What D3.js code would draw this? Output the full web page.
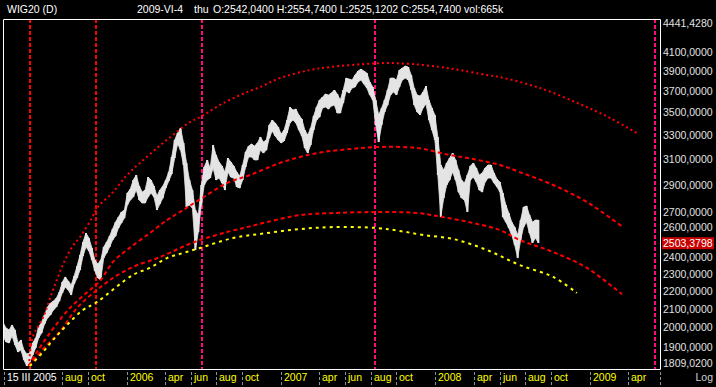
<!DOCTYPE html>
<html><head><meta charset="utf-8">
<script src="https://cdn.jsdelivr.net/npm/d3@7"></script>
<style>
html,body{margin:0;padding:0;background:#000;}
svg{display:block;}
text{font-family:"Liberation Sans",Arial,sans-serif;font-size:10.5px;}
</style></head><body>
<svg id="c" width="716" height="387"></svg>
<script>
// ---------- DATA ----------
const weekDates = [
"2005-03-14","2005-03-21","2005-03-28","2005-04-04","2005-04-11","2005-04-18","2005-04-25","2005-05-02","2005-05-09","2005-05-16",
"2005-05-23","2005-05-30","2005-06-06","2005-06-13","2005-06-20","2005-06-27","2005-07-04","2005-07-11","2005-07-18","2005-07-25",
"2005-08-01","2005-08-08","2005-08-15","2005-08-22","2005-08-29","2005-09-05","2005-09-12","2005-09-19","2005-09-26","2005-10-03",
"2005-10-10","2005-10-17","2005-10-24","2005-10-31","2005-11-07","2005-11-14","2005-11-21","2005-11-28","2005-12-05","2005-12-12",
"2005-12-19","2005-12-26","2006-01-02","2006-01-09","2006-01-16","2006-01-23","2006-01-30","2006-02-06","2006-02-13","2006-02-20",
"2006-02-27","2006-03-06","2006-03-13","2006-03-20","2006-03-27","2006-04-03","2006-04-10","2006-04-17","2006-04-24","2006-05-01",
"2006-05-08","2006-05-15","2006-05-22","2006-05-29","2006-06-05","2006-06-12","2006-06-19","2006-06-26","2006-07-03","2006-07-10",
"2006-07-17","2006-07-24","2006-07-31","2006-08-07","2006-08-14","2006-08-21","2006-08-28","2006-09-04","2006-09-11","2006-09-18",
"2006-09-25","2006-10-02","2006-10-09","2006-10-16","2006-10-23","2006-10-30","2006-11-06","2006-11-13","2006-11-20","2006-11-27",
"2006-12-04","2006-12-11","2006-12-18","2006-12-25","2007-01-01","2007-01-08","2007-01-15","2007-01-22","2007-01-29","2007-02-05",
"2007-02-12","2007-02-19","2007-02-26","2007-03-05","2007-03-12","2007-03-19","2007-03-26","2007-04-02","2007-04-09","2007-04-16",
"2007-04-23","2007-04-30","2007-05-07","2007-05-14","2007-05-21","2007-05-28","2007-06-04","2007-06-11","2007-06-18","2007-06-25",
"2007-07-02","2007-07-09","2007-07-16","2007-07-23","2007-07-30","2007-08-06","2007-08-13","2007-08-20","2007-08-27","2007-09-03",
"2007-09-10","2007-09-17","2007-09-24","2007-10-01","2007-10-08","2007-10-15","2007-10-22","2007-10-29","2007-11-05","2007-11-12",
"2007-11-19","2007-11-26","2007-12-03","2007-12-10","2007-12-17","2007-12-24","2007-12-31","2008-01-07","2008-01-14","2008-01-21",
"2008-01-28","2008-02-04","2008-02-11","2008-02-18","2008-02-25","2008-03-03","2008-03-10","2008-03-17","2008-03-24","2008-03-31",
"2008-04-07","2008-04-14","2008-04-21","2008-04-28","2008-05-05","2008-05-12","2008-05-19","2008-05-26","2008-06-02","2008-06-09",
"2008-06-16","2008-06-23","2008-06-30","2008-07-07","2008-07-14","2008-07-21","2008-07-28","2008-08-04","2008-08-11","2008-08-18",
"2008-08-25","2008-09-01"];
const highs = [
2023,1997,1987,2013,1987,1921,1936,1886,1867,1871,
1921,1946,2002,2028,2066,2109,2131,2142,2159,2193,
2251,2281,2257,2234,2287,2347,2415,2498,2557,2524,
2460,2384,2359,2384,2466,2498,2537,2584,2631,2666,
2701,2715,2838,2868,2936,2974,2890,2845,2860,2958,
2936,2890,2816,2860,2890,2936,2997,3117,3258,3318,
3361,3233,3069,2936,2860,2715,2680,2898,3037,3093,
3029,3216,3133,3077,3045,2997,3109,3077,3045,2997,
2966,3053,3158,3207,3224,3207,3233,3284,3241,3258,
3388,3432,3405,3370,3309,3344,3432,3550,3522,3531,
3477,3441,3344,3301,3361,3468,3550,3615,3644,3672,
3663,3682,3711,3672,3615,3711,3828,3818,3809,3858,
3899,3919,3899,3878,3789,3740,3615,3477,3541,3615,
3711,3828,3828,3809,3909,3929,3950,3940,3858,3730,
3663,3653,3692,3750,3615,3541,3477,3284,3053,3013,
3069,3109,3149,3093,3013,2936,2913,2974,3045,3069,
3029,2974,2990,3029,3053,3053,2990,2943,2920,2838,
2751,2694,2631,2597,2544,2645,2736,2744,2680,2631,
2645,2645];
const lows = [
1951,1926,1921,1956,1911,1876,1886,1838,1809,1828,
1862,1896,1946,1971,2018,2050,2066,2093,2109,2142,
2188,2222,2205,2176,2240,2275,2323,2409,2466,2440,
2384,2317,2275,2263,2396,2428,2466,2511,2537,2591,
2625,2659,2751,2787,2808,2860,2787,2765,2765,2808,
2838,2808,2715,2758,2801,2875,2928,2982,3109,3224,
3174,3053,2736,2751,2729,2447,2564,2751,2898,2936,
2951,3029,2936,2951,2913,2860,2997,2958,2951,2883,
2875,2936,3037,3117,3117,3093,3093,3174,3149,3174,
3275,3335,3292,3258,3233,3250,3318,3405,3432,3405,
3344,3292,3191,3149,3216,3344,3432,3459,3541,3550,
3531,3559,3569,3495,3495,3587,3701,3682,3730,3740,
3789,3809,3769,3730,3663,3615,3388,3241,3388,3504,
3569,3663,3692,3663,3740,3809,3828,3809,3711,3569,
3504,3477,3541,3578,3432,3344,3258,2974,2666,2801,
2898,2936,2997,2936,2845,2801,2787,2701,2936,2958,
2920,2860,2845,2920,2951,2951,2913,2883,2845,2666,
2631,2591,2544,2479,2396,2511,2597,2631,2557,2492,
2524,2492];

// arcs: [date, value]
const arcOuter = [
["2005-05-14",1809],["2005-05-23",1951],["2005-06-16",2050],["2005-07-10",2205],["2005-08-02",2353],
["2005-08-24",2466],["2005-09-12",2531],["2005-10-10",2659],["2005-10-24",2736],["2005-11-29",2845],
["2006-01-01",2974],["2006-02-01",3069],["2006-03-13",3191],["2006-04-20",3301],["2006-05-30",3414],
["2006-06-28",3468],["2006-08-09",3569],["2006-09-26",3663],["2006-11-12",3740],["2006-12-29",3828],
["2007-03-10",3909],["2007-04-27",3940],["2007-07-14",3970],["2007-09-09",3981],["2007-11-09",3970],
["2008-01-12",3940],["2008-02-28",3909],["2008-05-02",3858],["2008-06-02",3838],["2008-09-05",3730],
["2008-12-08",3578],["2009-02-18",3450],["2009-04-22",3318]];
const arcMiddle = [
["2005-05-14",1809],["2005-06-02",1876],["2005-06-26",1951],["2005-07-22",2028],["2005-08-19",2104],
["2005-09-24",2182],["2005-10-29",2257],["2005-11-29",2372],["2006-01-01",2447],["2006-02-24",2557],
["2006-04-06",2645],["2006-05-14",2715],["2006-06-28",2801],["2006-08-26",2913],["2006-10-19",2974],
["2007-01-05",3077],["2007-03-27",3149],["2007-06-13",3182],["2007-08-16",3199],["2007-11-19",3191],
["2008-02-05",3133],["2008-03-30",3101],["2008-06-02",3053],["2008-07-19",2997],["2008-10-06",2898],
["2008-12-25",2772],["2009-03-20",2597]];
const arcLower = [
["2005-05-14",1809],["2005-06-21",1901],["2005-07-26",1977],["2005-09-05",2104],["2005-10-22",2205],
["2005-11-29",2275],["2006-01-15",2341],["2006-03-20",2402],["2006-05-23",2479],["2006-06-23",2511],
["2006-08-26",2564],["2006-10-12",2597],["2006-11-28",2631],["2007-02-15",2680],["2007-05-04",2694],
["2007-08-16",2701],["2007-11-19",2694],["2008-01-19",2666],["2008-03-30",2625],["2008-06-02",2577],
["2008-07-19",2511],["2008-10-06",2434],["2008-12-25",2335],["2009-03-18",2180]];
const arcYellow = [
["2005-05-16",1809],["2005-06-16",1876],["2005-07-10",1936],["2005-08-12",2013],["2005-09-19",2093],
["2005-10-22",2137],["2006-01-15",2293],["2006-02-24",2335],["2006-04-06",2396],["2006-05-14",2428],
["2006-06-23",2460],["2006-09-09",2524],["2006-11-28",2557],["2007-02-15",2584],["2007-05-04",2597],
["2007-08-16",2591],["2007-10-09",2571],["2007-12-03",2544],["2008-02-12",2518],["2008-05-02",2447],
["2008-07-19",2353],["2008-10-06",2281],["2008-12-01",2188]];

const redLines = ["2005-05-16","2005-10-20"];
const magentaLines = ["2006-06-28","2007-08-11","2009-06-04"];

const yTicks = [4100,3900,3700,3500,3300,3100,2900,2700,2600,2400,2300,2200,2100,2000,1900];
const yMin = 1809.02, yMax = 4441.428, lastValue = 2503.3798;

const xTickDates = ["2005-03-15","2005-08-01","2005-10-01","2006-01-01","2006-04-01","2006-06-01","2006-08-01","2006-10-01",
"2007-01-01","2007-04-01","2007-06-01","2007-08-01","2007-10-01","2008-01-01","2008-04-01","2008-06-01","2008-08-01","2008-10-01",
"2009-01-01","2009-04-01"];
const xTickLabels = ["15 III 2005","aug","oct","2006","apr","jun","aug","oct","2007","apr","jun","aug","oct","2008","apr","jun","aug","oct","2009","apr"];

const headerLeft = "WIG20 (D)";
const headerDate = "2009-VI-4";
const headerDay = "thu";
const headerQuote = "O:2542,0400 H:2554,7400 L:2525,1202 C:2554,7400 vol:665k";

// ---------- CHART ----------
const parse = d3.utcParse("%Y-%m-%d");
const svg = d3.select("#c");
const L = 3, R = 660, T = 19, B = 369;

const x = d3.scaleUtc().domain([parse("2005-03-15"), parse("2009-06-15")]).range([3.6, 659.6]);
const y = d3.scaleLog().domain([yMin, yMax]).range([366, 21]);

svg.append("rect").attr("width",716).attr("height",387).attr("fill","#000");

svg.append("defs").append("clipPath").attr("id","pc")
  .append("rect").attr("x",L+1).attr("y",T+1).attr("width",R-L-1).attr("height",B-T-1);
const plot = svg.append("g").attr("clip-path","url(#pc)");

// vertical dashed lines
plot.selectAll(".vr").data(redLines).join("line")
  .attr("x1",d=>Math.round(x(parse(d)))).attr("x2",d=>Math.round(x(parse(d))))
  .attr("y1",T).attr("y2",B).attr("stroke","#ff0000").attr("stroke-width",2).attr("stroke-dasharray","4,2");
plot.selectAll(".vm").data(magentaLines).join("line")
  .attr("x1",d=>Math.round(x(parse(d)))).attr("x2",d=>Math.round(x(parse(d))))
  .attr("y1",T).attr("y2",B).attr("stroke","#ff0a7c").attr("stroke-width",2).attr("stroke-dasharray","4,2");

// price: high-low band plus bars
const bars = weekDates.map((d,i)=>({d:parse(d),h:highs[i],l:lows[i]}));
const band = d3.area().x(b=>x(b.d)).y0(b=>y(b.l)).y1(b=>y(b.h));
plot.append("path").attr("d",band(bars)).attr("fill","#e4e4e4").attr("stroke","#e4e4e4").attr("stroke-width",0.8);
plot.selectAll(".bar").data(bars).join("rect")
  .attr("x",b=>x(b.d)-1).attr("width",2)
  .attr("y",b=>y(b.h)).attr("height",b=>Math.max(1.5,y(b.l)-y(b.h)))
  .attr("fill","#e4e4e4");

// arcs
const line = d3.line().x(p=>x(parse(p[0]))).y(p=>y(p[1])).curve(d3.curveCatmullRom.alpha(0.5));
const arcs = [
  {pts:arcOuter, c:"#ff0000", dash:"2,3"},
  {pts:arcMiddle, c:"#ff0000", dash:"4,3"},
  {pts:arcLower, c:"#ff0000", dash:"4,3"},
  {pts:arcYellow, c:"#ffff00", dash:"3,4"}
];
arcs.forEach(a=>{
  plot.append("path").attr("d",line(a.pts)).attr("fill","none")
    .attr("stroke",a.c).attr("stroke-width",2).attr("stroke-dasharray",a.dash);
});

// frame
svg.append("path").attr("d",`M${L+0.5},${B+0.5}V${T+0.5}H${R+0.5}V${B+0.5}Z`)
  .attr("fill","none").attr("stroke","#fff").attr("stroke-width",1);

// right axis
const fmt = v => d3.format(".4f")(v).replace(".",",");
const ax = svg.append("g");
ax.selectAll("text.t").data(yTicks).join("text")
  .attr("x",663).attr("y",v=>y(v)+4).attr("fill","#e0e0e0").text(fmt);
ax.append("text").attr("x",663).attr("y",27).attr("fill","#e0e0e0").text(fmt(yMax));
ax.append("text").attr("x",663).attr("y",367).attr("fill","#e0e0e0").text(fmt(yMin));
const yl = y(lastValue);
ax.append("rect").attr("x",662).attr("y",yl-4).attr("width",52).attr("height",12).attr("fill","#c80000");
ax.append("text").attr("x",663).attr("y",yl+6).attr("fill","#ffffff").text(fmt(lastValue));

// bottom axis
const bx = svg.append("g");
xTickDates.forEach((d,i)=>{
  const xx = Math.round(x(parse(d)));
  bx.append("line").attr("x1",xx+0.5).attr("x2",xx+0.5).attr("y1",372).attr("y2",387)
    .attr("stroke","#909090").attr("stroke-width",1).attr("stroke-dasharray","3,2");
  bx.append("text").attr("x",xx+3).attr("y",381)
    .attr("fill", i===0 ? "#ffffff" : "#ffff00").text(xTickLabels[i]);
});
bx.append("line").attr("x1",R+0.5).attr("x2",R+0.5).attr("y1",372).attr("y2",387)
  .attr("stroke","#909090").attr("stroke-dasharray","3,2");
bx.append("text").attr("x",713).attr("y",381).attr("text-anchor","end").attr("fill","#d0d0d0").text("Log");

// header
svg.append("text").attr("x",7).attr("y",13).attr("fill","#ffffff").text(headerLeft);
svg.append("text").attr("x",137).attr("y",13).attr("fill","#ffffff").text(headerDate);
svg.append("text").attr("x",194).attr("y",13).attr("fill","#ffffff").text(headerDay);
svg.append("text").attr("x",213).attr("y",13).attr("fill","#ffffff").text(headerQuote);
</script>
</body></html>
